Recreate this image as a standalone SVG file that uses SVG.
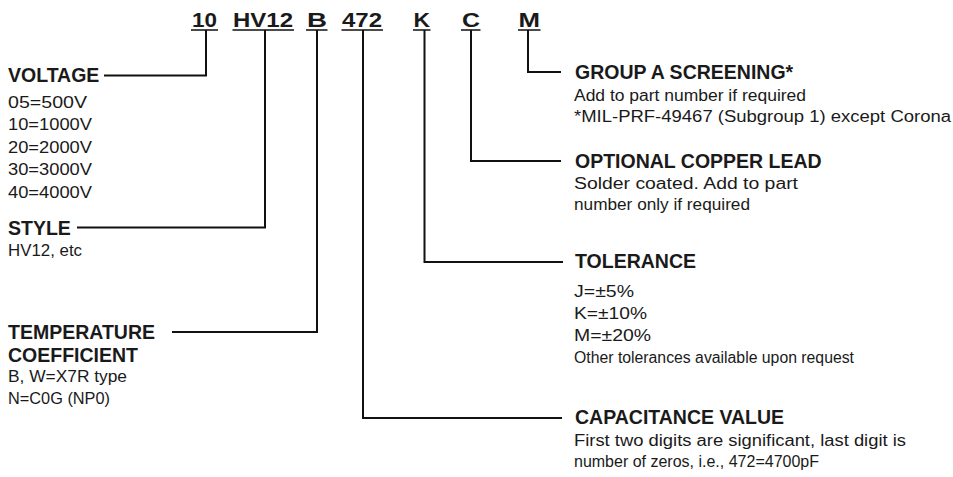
<svg xmlns="http://www.w3.org/2000/svg" width="953" height="477" viewBox="0 0 953 477">
<style>
text{fill:#1a1a1a;font-family:"Liberation Sans",Arial,Helvetica,sans-serif}
.h{font-size:21px;font-weight:bold}
.t{font-size:19.5px;font-weight:bold}
.b{font-size:16px}
.ln{fill:none;stroke:#111;stroke-width:2}
.ul{fill:none;stroke:#111;stroke-width:1.5}
</style>
<rect width="953" height="477" fill="#fff"/>
<g id="part-number">
<text class="h" x="192" y="27" textLength="25" lengthAdjust="spacingAndGlyphs">10</text>
<text class="h" x="233" y="27" textLength="60" lengthAdjust="spacingAndGlyphs">HV12</text>
<text class="h" x="307" y="27" textLength="20" lengthAdjust="spacingAndGlyphs">B</text>
<text class="h" x="342" y="27" textLength="40" lengthAdjust="spacingAndGlyphs">472</text>
<text class="h" x="413.5" y="27" textLength="16.5" lengthAdjust="spacingAndGlyphs">K</text>
<text class="h" x="462" y="27" textLength="18" lengthAdjust="spacingAndGlyphs">C</text>
<text class="h" x="518.5" y="27" textLength="21.5" lengthAdjust="spacingAndGlyphs">M</text>
<path class="ul" d="M191,30H218M232.5,30H294M306,30H327.5M341.5,30H383M413,30H430.5M461,30H480.5M518,30H540.5"/>
</g>
<g id="connectors">
<path class="ln" d="M206,30V75.5H104"/>
<path class="ln" d="M265,30V227.5H77"/>
<path class="ln" d="M317,30V332H172"/>
<path class="ln" d="M363,30V418H562"/>
<path class="ln" d="M424.5,30V262H563"/>
<path class="ln" d="M471,30V161H561"/>
<path class="ln" d="M528,30V72H561"/>
</g>
<g id="voltage">
<text class="t" x="8" y="82">VOLTAGE</text>
<text class="b" x="8" y="107.5" textLength="79" lengthAdjust="spacingAndGlyphs">05=500V</text>
<text class="b" x="8" y="130" textLength="84" lengthAdjust="spacingAndGlyphs">10=1000V</text>
<text class="b" x="8" y="152.5" textLength="84" lengthAdjust="spacingAndGlyphs">20=2000V</text>
<text class="b" x="8" y="175" textLength="84" lengthAdjust="spacingAndGlyphs">30=3000V</text>
<text class="b" x="8" y="197.5" textLength="84" lengthAdjust="spacingAndGlyphs">40=4000V</text>
</g>
<g id="style">
<text class="t" x="8" y="234.5">STYLE</text>
<text class="b" x="8" y="256" textLength="74" lengthAdjust="spacingAndGlyphs">HV12, etc</text>
</g>
<g id="temperature-coefficient">
<text class="t" x="8" y="338.5">TEMPERATURE</text>
<text class="t" x="8" y="361.5">COEFFICIENT</text>
<text class="b" x="8" y="381.5" textLength="119" lengthAdjust="spacingAndGlyphs">B, W=X7R type</text>
<text class="b" x="8" y="403.5" textLength="102" lengthAdjust="spacingAndGlyphs">N=C0G (NP0)</text>
</g>
<g id="group-a-screening">
<text class="t" x="575" y="79">GROUP A SCREENING*</text>
<text class="b" x="574" y="101" textLength="232" lengthAdjust="spacingAndGlyphs">Add to part number if required</text>
<text class="b" x="574" y="121.5" textLength="377" lengthAdjust="spacingAndGlyphs">*MIL-PRF-49467 (Subgroup 1) except Corona</text>
</g>
<g id="optional-copper-lead">
<text class="t" x="575" y="168">OPTIONAL COPPER LEAD</text>
<text class="b" x="574" y="189" textLength="224" lengthAdjust="spacingAndGlyphs">Solder coated. Add to part</text>
<text class="b" x="574" y="210" textLength="176" lengthAdjust="spacingAndGlyphs">number only if required</text>
</g>
<g id="tolerance">
<text class="t" x="575" y="268">TOLERANCE</text>
<text class="b" x="574" y="297" textLength="60" lengthAdjust="spacingAndGlyphs">J=±5%</text>
<text class="b" x="574" y="319" textLength="73" lengthAdjust="spacingAndGlyphs">K=±10%</text>
<text class="b" x="574" y="341" textLength="77" lengthAdjust="spacingAndGlyphs">M=±20%</text>
<text class="b" x="574" y="363" textLength="280" lengthAdjust="spacingAndGlyphs">Other tolerances available upon request</text>
</g>
<g id="capacitance-value">
<text class="t" x="575" y="424">CAPACITANCE VALUE</text>
<text class="b" x="574" y="445.5" textLength="332" lengthAdjust="spacingAndGlyphs">First two digits are significant, last digit is</text>
<text class="b" x="574" y="467" textLength="245" lengthAdjust="spacingAndGlyphs">number of zeros, i.e., 472=4700pF</text>
</g>
</svg>
